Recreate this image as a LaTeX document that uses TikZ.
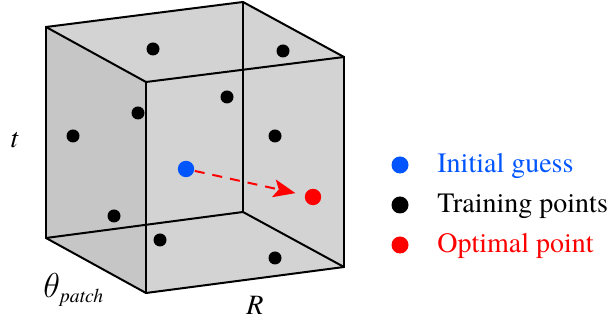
\documentclass[tikz,border=0pt]{standalone}
\usepackage{fontspec}
\setmainfont{texgyretermes}[Extension=.otf,UprightFont=*-regular,
  ItalicFont=*-italic,BoldFont=*-bold,BoldItalicFont=*-bolditalic]
\usetikzlibrary{arrows.meta,calc}
\usepackage{tkz-euclide}
\definecolor{FaceClr}{RGB}{211,211,211}
\definecolor{SideClr}{RGB}{198,198,198}
\definecolor{GuessClr}{RGB}{0,85,255}
\definecolor{OptClr}{RGB}{255,0,0}

\begin{document}
\begin{tikzpicture}[x=5pt,y=5pt,font=\rmfamily\fontsize{14}{16}\selectfont]
\tikzset{edge/.style={line width=1pt,color=black,line join=round},
  sample/.style={fill=black},
  legtext/.style={anchor=base west,inner sep=0pt}}
\useasboundingbox (0,0) rectangle (61,32.5);

% cube corners
\tkzDefPoints{4.6/29.8/A,24.3/32.3/B,34.4/26.8/C,14.6/24.3/D,
  4.6/8.7/E,14.6/3.2/F,34.4/5.8/G,24.3/11.3/H}
% samples
\tkzDefPoints{15.3/27.6/P1,28.3/27.4/P2,22.7/22.8/P3,13.8/21.2/P4,7.3/18.9/P5,
  27.5/18.9/P6,11.4/10.9/P7,16.0/8.5/P8,27.5/6.7/P9}
\tkzDefPoints{18.6/15.6/S,31.3/12.8/O}

\fill[FaceClr] (A)--(B)--(C)--(G)--(F)--(E)--cycle;
\fill[SideClr] (A)--(D)--(F)--(E)--cycle;

\tkzDrawSegments[edge](B,H H,E H,G)
\tkzDrawSegments[edge](A,B B,C C,D D,A A,E D,F C,G E,F F,G)

\foreach \p in {P1,P2,P3,P4,P5,P6,P7,P8,P9}
  \fill[sample] (\p) circle (0.65);
\fill[GuessClr] (S) circle (0.82);
\fill[OptClr] (O) circle (0.82);

\draw[OptClr,line width=1pt,dash pattern=on 5pt off 4pt,
  -{Stealth[length=11pt,width=9pt,inset=2.5pt]},shorten <=4.5pt,shorten >=9pt] (S) -- (O);

% axes
\node[legtext] (lt) at (1.0,17.7) {\itshape t};
\node[legtext] (lth) at (4.3,2.7) {{\fontsize{16}{18}\selectfont$\theta$}\textsubscript{\itshape patch}};
\node[legtext] (lR) at (24.6,1.0) {\itshape R};

% legend
\tkzDefPoints{40/16/L1,40/12/L2,40/8/L3}
\fill[GuessClr] (L1) circle (0.85);
\fill[sample] (L2) circle (0.85);
\fill[OptClr] (L3) circle (0.85);
\node[legtext,text=GuessClr] (t1) at (43.7,15.2) {Initial guess};
\node[legtext] (t2) at (43.7,11.2) {Training points};
\node[legtext,text=OptClr] (t3) at (43.7,7.2) {Optimal point};
\end{tikzpicture}
\end{document}
